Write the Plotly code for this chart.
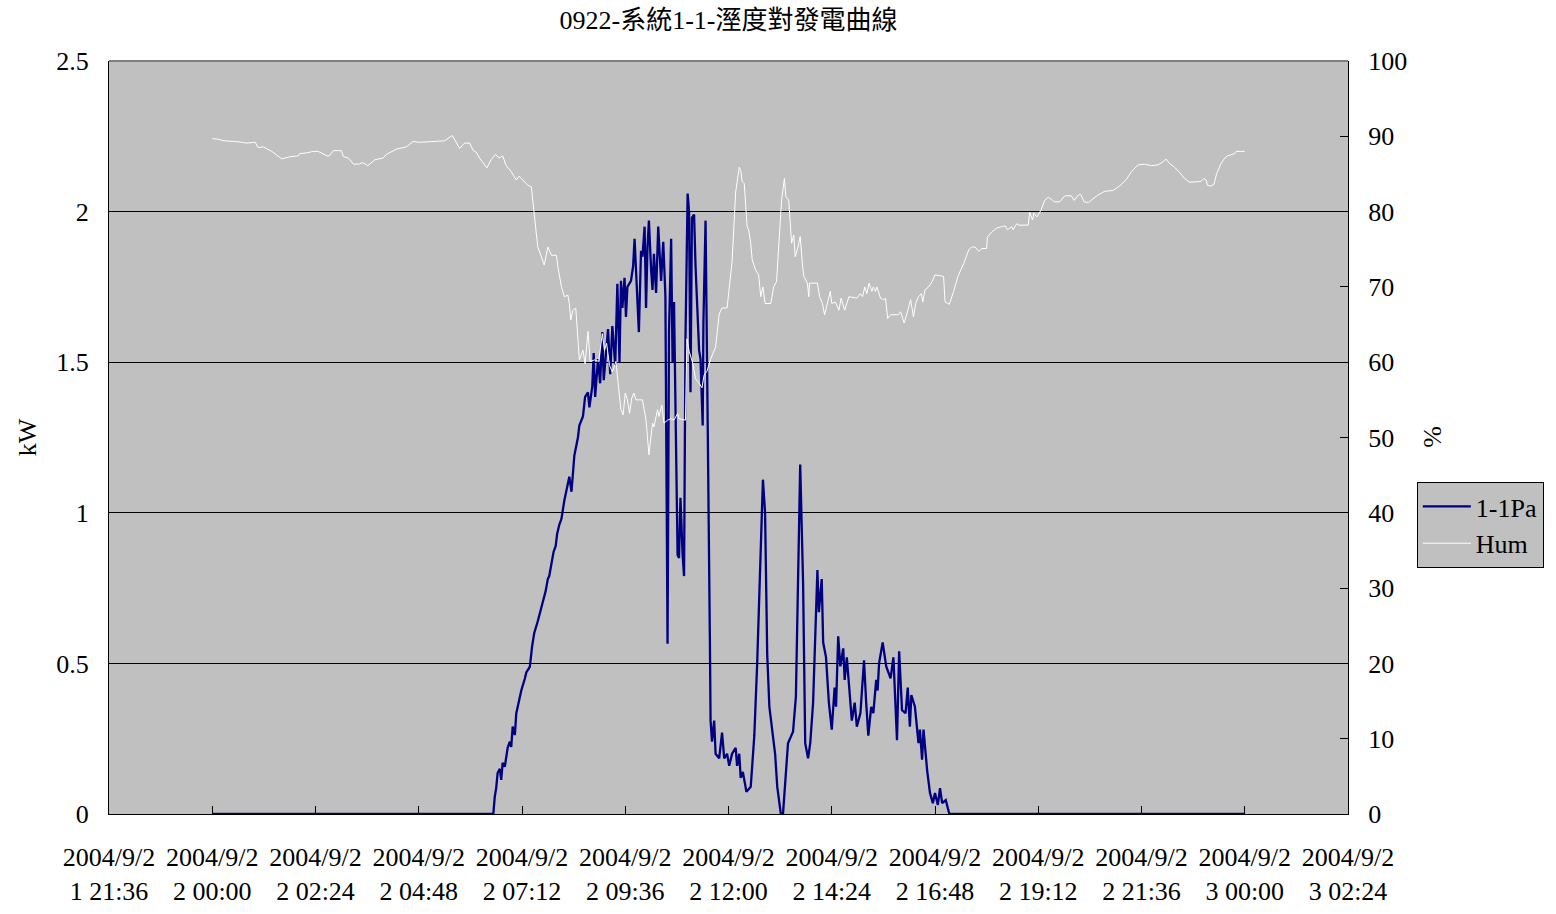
import pandas as pd
import plotly.graph_objects as go

# 1-1Pa output power (kW), minutes after 2004/9/2 00:00
pa_minute = [0, 392, 394, 396, 398, 401, 403, 405, 408, 410, 412, 415, 417, 419, 422, 424, 429, 431,
             436, 438, 442, 443, 446, 449, 454, 457, 461, 465, 468, 470, 473, 476, 479, 481, 484, 487,
             491, 494, 498, 501, 505, 510, 512, 517, 520, 524, 526, 530, 532, 534, 538, 541, 544, 546,
             549, 552, 555, 558, 562, 565, 568, 570, 572, 575, 577, 579, 584, 587, 589, 592, 595, 598,
             600, 603, 605, 607, 609, 612, 614, 616, 619, 622, 626, 629, 632, 635, 637, 640, 642, 644,
             647, 649, 651, 653, 656, 658, 660, 663, 665, 667, 669, 672, 674, 677, 679, 681, 684, 685,
             688, 691, 693, 694, 695, 697, 700, 702, 707, 711, 714, 718, 721, 725, 730, 732, 735, 737,
             740, 745, 751, 756, 760, 765, 768, 771, 774, 777, 781, 785, 788, 793, 796, 800, 803, 807,
             810, 814, 817, 820, 824, 827, 831, 834, 838, 841, 844, 846, 850, 852, 856, 860, 864, 868,
             870, 873, 876, 880, 882, 885, 889, 892, 896, 899, 904, 909, 912, 915, 919, 922, 926, 928,
             930, 935, 940, 946, 950, 955, 958, 962, 967, 970, 973, 975, 980, 983, 985, 987, 990, 992,
             997, 1001, 1005, 1008, 1012, 1015, 1018, 1023, 1028, 1440]
pa_kw = [0.0, 0.0, 0.057, 0.086, 0.136, 0.15, 0.113, 0.17, 0.157, 0.196, 0.22, 0.24, 0.223, 0.29, 0.262,
         0.334, 0.39, 0.41, 0.45, 0.47, 0.485, 0.49, 0.555, 0.60, 0.64, 0.666, 0.705, 0.74, 0.78, 0.79,
         0.83, 0.87, 0.89, 0.93, 0.96, 0.98, 1.04, 1.07, 1.12, 1.07, 1.19, 1.25, 1.29, 1.32, 1.385, 1.40,
         1.35, 1.42, 1.53, 1.385, 1.51, 1.43, 1.60, 1.44, 1.53, 1.61, 1.46, 1.62, 1.49, 1.76, 1.50, 1.77,
         1.68, 1.78, 1.65, 1.75, 1.77, 1.82, 1.91, 1.76, 1.60, 1.87, 1.85, 1.95, 1.68, 1.88, 1.97, 1.81,
         1.74, 1.86, 1.73, 1.95, 1.77, 1.90, 1.72, 0.565, 1.60, 1.91, 1.50, 1.70, 1.08, 0.86, 0.85, 1.05,
         0.86, 0.79, 1.58, 2.06, 2.0, 1.40, 1.98, 1.99, 1.82, 1.63, 1.54, 1.51, 1.29, 1.63, 1.97, 1.29,
         0.92, 0.59, 0.31, 0.24, 0.31, 0.20, 0.185, 0.27, 0.185, 0.20, 0.16, 0.20, 0.22, 0.16, 0.20, 0.12,
         0.14, 0.074, 0.09, 0.26, 0.50, 0.85, 1.11, 1.0, 0.53, 0.356, 0.28, 0.20, 0.09, 0.0, 0.0, 0.135,
         0.235, 0.257, 0.273, 0.39, 0.77, 1.16, 0.77, 0.235, 0.185, 0.235, 0.37, 0.59, 0.81, 0.67, 0.78,
         0.57, 0.52, 0.37, 0.28, 0.42, 0.356, 0.59, 0.49, 0.55, 0.445, 0.52, 0.40, 0.31, 0.37, 0.29, 0.335,
         0.51, 0.37, 0.26, 0.356, 0.335, 0.445, 0.41, 0.50, 0.57, 0.49, 0.45, 0.52, 0.245, 0.54, 0.345,
         0.335, 0.42, 0.29, 0.395, 0.356, 0.28, 0.235, 0.28, 0.18, 0.28, 0.146, 0.07, 0.036, 0.07, 0.03,
         0.086, 0.036, 0.046, 0.0, 0.0]

# Relative humidity (%), minutes after 2004/9/2 00:00
hum_minute = [0, 9, 16, 25, 34, 48, 60, 64, 71, 83, 92, 97, 109, 120, 122, 132, 141, 148, 160, 163, 169,
              180, 183, 190, 197, 204, 210, 217, 227, 238, 243, 257, 271, 280, 289, 303, 324, 330, 335,
              339, 345, 352, 359, 364, 368, 373, 377, 383, 389, 395, 400, 405, 410, 417, 424, 428, 433,
              440, 445, 449, 454, 459, 463, 468, 473, 480, 482, 487, 491, 496, 498, 500, 503, 507, 512,
              517, 520, 524, 527, 533, 539, 544, 547, 550, 554, 558, 563, 568, 570, 573, 576, 579, 582,
              585, 588, 591, 600, 605, 609, 614, 616, 621, 623, 627, 630, 635, 640, 644, 649, 651, 660,
              662, 665, 670, 674, 679, 683, 686, 690, 695, 702, 707, 711, 718, 723, 725, 730, 735, 737,
              739, 742, 746, 748, 751, 753, 758, 762, 765, 768, 771, 779, 783, 787, 791, 794, 798, 800,
              804, 808, 811, 813, 817, 820, 823, 825, 830, 832, 833, 844, 847, 851, 854, 858, 862, 864,
              869, 874, 877, 882, 888, 899, 904, 907, 910, 913, 916, 920, 922, 925, 927, 932, 936, 939,
              942, 946, 950, 957, 960, 965, 969, 974, 978, 981, 985, 989, 991, 994, 999, 1004, 1008, 1020,
              1022, 1028, 1034, 1040, 1048, 1055, 1059, 1064, 1069, 1073, 1080, 1081, 1087, 1094, 1101,
              1106, 1109, 1115, 1117, 1122, 1125, 1138, 1140, 1144, 1146, 1150, 1156, 1161, 1166, 1171,
              1174, 1182, 1189, 1198, 1202, 1208, 1211, 1216, 1222, 1229, 1235, 1245, 1256, 1261, 1268,
              1275, 1282, 1291, 1300, 1310, 1319, 1326, 1330, 1335, 1342, 1349, 1356, 1363, 1372, 1379,
              1383, 1386, 1388, 1393, 1397, 1401, 1407, 1412, 1416, 1421, 1426, 1428, 1440]
hum_pct = [89.7, 89.6, 89.4, 89.4, 89.3, 89.1, 89.2, 88.5, 88.6, 88.0, 87.4, 87.0, 87.3, 87.4, 87.7, 87.8,
           88.0, 88.0, 87.4, 87.4, 88.1, 88.1, 87.3, 87.1, 86.3, 86.3, 86.5, 86.1, 86.9, 87.1, 87.6, 88.3,
           88.6, 89.3, 89.2, 89.3, 89.4, 89.8, 90.1, 89.4, 88.4, 89.1, 89.1, 88.1, 87.9, 87.1, 86.6, 85.8,
           86.9, 87.6, 87.1, 87.4, 86.1, 85.3, 84.2, 84.7, 84.2, 83.5, 83.3, 79.8, 75.3, 74.0, 72.9, 75.3,
           74.2, 74.2, 72.7, 70.0, 68.7, 68.9, 67.8, 65.6, 66.9, 67.2, 60.3, 61.6, 59.8, 64.1, 60.1, 60.3,
           60.1, 63.8, 61.6, 62.5, 59.6, 58.7, 60.1, 55.4, 53.7, 53.0, 55.9, 55.0, 53.2, 55.2, 55.9, 55.0,
           55.0, 52.3, 47.7, 51.9, 51.4, 53.7, 52.8, 54.3, 51.9, 52.3, 52.5, 52.3, 53.2, 52.5, 52.3, 63.1,
           61.5, 59.9, 57.8, 57.2, 56.6, 58.3, 58.8, 60.4, 62.0, 66.4, 67.2, 67.2, 71.2, 73.4, 82.6, 85.9,
           85.5, 84.0, 83.7, 78.0, 77.6, 75.8, 73.6, 72.2, 71.6, 68.7, 70.0, 67.8, 67.8, 70.0, 70.7, 77.6,
           81.5, 84.4, 82.0, 81.5, 75.8, 76.9, 74.0, 75.3, 76.7, 73.1, 71.4, 70.5, 68.7, 70.5, 70.5, 68.7,
           67.8, 66.3, 67.8, 69.4, 67.8, 68.0, 66.9, 68.5, 66.9, 68.7, 68.5, 69.1, 68.7, 70.0, 69.1, 70.5,
           69.4, 70.0, 69.4, 70.0, 68.5, 68.3, 68.5, 65.8, 66.3, 66.3, 66.3, 66.7, 65.2, 66.5, 68.3, 66.0,
           67.8, 68.7, 69.1, 68.0, 69.6, 70.0, 70.7, 71.6, 71.4, 68.0, 67.7, 69.4, 71.4, 73.1, 74.9, 75.3,
           75.3, 74.7, 75.1, 75.1, 76.6, 77.3, 77.8, 78.0, 78.1, 77.6, 78.0, 77.6, 78.4, 78.2, 78.2, 79.9,
           78.9, 79.8, 79.3, 80.2, 81.5, 81.9, 81.6, 81.3, 81.3, 82.1, 82.1, 81.5, 82.2, 82.3, 81.3, 81.2,
           81.8, 82.2, 82.7, 82.8, 83.1, 83.6, 84.3, 85.3, 86.2, 86.3, 86.1, 86.2, 86.6, 87.0, 86.4, 85.9,
           85.2, 84.4, 83.9, 83.9, 84.0, 84.4, 84.2, 83.5, 83.4, 83.6, 85.1, 86.4, 87.1, 87.4, 87.5, 87.7,
           88.0, 88.0]

tick_labels = ["2004/9/2<br>1 21:36", "2004/9/2<br>2 00:00", "2004/9/2<br>2 02:24",
               "2004/9/2<br>2 04:48", "2004/9/2<br>2 07:12", "2004/9/2<br>2 09:36",
               "2004/9/2<br>2 12:00", "2004/9/2<br>2 14:24", "2004/9/2<br>2 16:48",
               "2004/9/2<br>2 19:12", "2004/9/2<br>2 21:36", "2004/9/2<br>3 00:00",
               "2004/9/2<br>3 02:24"]

day = pd.Timestamp("2004-09-02")
pa_time = day + pd.to_timedelta(pa_minute, unit="min")
hum_time = day + pd.to_timedelta(hum_minute, unit="min")
axis_start = pd.Timestamp("2004-09-01 21:36")
tick_times = [axis_start + pd.Timedelta(minutes=144 * i) for i in range(len(tick_labels))]

FONT = "Liberation Serif, 'Noto Sans CJK TC', serif"
FS = 26

fig = go.Figure()
fig.add_trace(go.Scatter(x=pa_time, y=pa_kw, name="1-1Pa", mode="lines",
                         line=dict(color="#000080", width=2.3), yaxis="y"))
fig.add_trace(go.Scatter(x=hum_time, y=hum_pct, name="Hum", mode="lines",
                         line=dict(color="#FFFFFF", width=1), yaxis="y2"))

fig.update_layout(
    width=1556, height=914,
    margin=dict(l=109, r=205, t=61, b=100),
    paper_bgcolor="white", plot_bgcolor="#C0C0C0",
    font=dict(family=FONT, size=FS, color="black"),
    showlegend=True,
    title=dict(text="0922-系統1-1-溼度對發電曲線", x=0.5, xref="paper",
               y=1 - 20 / 914, yref="container", yanchor="middle", xanchor="center",
               font=dict(family=FONT, size=FS, color="black")),
    xaxis=dict(type="date", range=[tick_times[0], tick_times[-1]],
               tickmode="array", tickvals=tick_times, ticktext=tick_labels,
               ticks="inside", ticklen=8, tickcolor="black", tickwidth=1,
               showgrid=False, showline=True, linecolor="black", linewidth=1,
               zeroline=False, automargin=False, layer="below traces",
               ticklabelstandoff=20),
    yaxis=dict(range=[0, 2.5], tickmode="array", tickvals=[0, 0.5, 1, 1.5, 2, 2.5],
               ticktext=["0", "0.5", "1", "1.5", "2", "2.5"],
               ticks="inside", ticklen=8, tickcolor="black",
               showgrid=True, gridcolor="black", gridwidth=1,
               showline=True, linecolor="black", linewidth=1,
               zeroline=False, automargin=False, layer="below traces",
               ticklabelstandoff=14),
    yaxis2=dict(range=[0, 100], tickmode="array", tickvals=list(range(0, 101, 10)),
                overlaying="y", side="right",
                ticks="inside", ticklen=8, tickcolor="black",
                showgrid=False, showline=True, linecolor="black", linewidth=1,
                zeroline=False, automargin=False, layer="below traces",
                ticklabelstandoff=14),
    legend=dict(x=(1420 - 109) / 1242, y=(814 - 482) / 753, xanchor="left", yanchor="top",
                bgcolor="#C0C0C0", bordercolor="black", borderwidth=1,
                font=dict(family=FONT, size=FS, color="black"),
                itemwidth=48, tracegroupgap=0),
    shapes=[dict(type="line", xref="paper", yref="paper", x0=0, x1=1, y0=1, y1=1,
                 line=dict(color="#808080", width=2), layer="above")],
    annotations=[
        dict(text="kW", textangle=-90, xref="paper", yref="paper",
             x=(27 - 109) / 1242, y=(814 - 437) / 753, showarrow=False,
             xanchor="center", yanchor="middle", font=dict(family=FONT, size=FS)),
        dict(text="%", textangle=-90, xref="paper", yref="paper",
             x=(1435 - 109) / 1242, y=(814 - 437) / 753, showarrow=False,
             xanchor="center", yanchor="middle", font=dict(family=FONT, size=FS)),
    ],
)

fig.write_html("out.html")
